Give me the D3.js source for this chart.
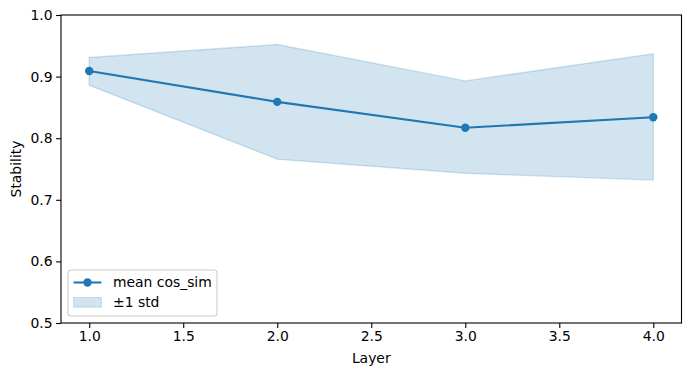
<!DOCTYPE html>
<html>
<head>
<meta charset="utf-8">
<script src="https://cdn.jsdelivr.net/npm/d3@7"></script>
<style>
  body { margin: 0; background: #fff; }
  svg { font-family: 'DejaVu Sans', sans-serif; }
</style>
</head>
<body>
<div id="chart"></div>
<script>
// data
const layers = [1, 2, 3, 4]
const meanCos = [0.909, 0.859, 0.817, 0.834]
const upperStd = [0.931, 0.952, 0.893, 0.937]
const lowerStd = [0.886, 0.766, 0.743, 0.732]
const xTicks = [1.0, 1.5, 2.0, 2.5, 3.0, 3.5, 4.0]
const yTicks = [0.5, 0.6, 0.7, 0.8, 0.9, 1.0]

const W = 691, H = 376
const m = { t: 15, r: 9.5, b: 53, l: 61 }
const blue = '#1f77b4'
const fs = 13.9

const svg = d3.select('#chart').append('svg')
  .attr('width', W).attr('height', H)

const x = d3.scaleLinear().domain([0.85, 4.15]).range([m.l, W - m.r])
const y = d3.scaleLinear().domain([0.5, 1.0]).range([H - m.b, m.t])

const pts = layers.map((l, i) => ({ x: l, mean: meanCos[i], lo: lowerStd[i], hi: upperStd[i] }))

// std band
const area = d3.area().x(d => x(d.x)).y0(d => y(d.lo)).y1(d => y(d.hi))
svg.append('path').datum(pts).attr('d', area)
  .attr('fill', blue).attr('fill-opacity', 0.2)
  .attr('stroke', blue).attr('stroke-opacity', 0.2).attr('stroke-width', 1.4)

// mean line + markers
const line = d3.line().x(d => x(d.x)).y(d => y(d.mean))
svg.append('path').datum(pts).attr('d', line)
  .attr('fill', 'none').attr('stroke', blue).attr('stroke-width', 2.08)
svg.selectAll('.dot').data(pts).enter().append('circle')
  .attr('class', 'dot')
  .attr('cx', d => x(d.x)).attr('cy', d => y(d.mean)).attr('r', 4.2)
  .attr('fill', blue)

// axes
const xAxis = svg.append('g').attr('transform', 'translate(0,' + (H - m.b) + ')')
  .call(d3.axisBottom(x).tickValues(xTicks).tickFormat(d3.format('.1f')).tickSize(4.9).tickPadding(3.5))
const yAxis = svg.append('g').attr('transform', 'translate(' + m.l + ',0)')
  .call(d3.axisLeft(y).tickValues(yTicks).tickFormat(d3.format('.1f')).tickSize(4.9).tickPadding(3.5))
for (const g of [xAxis, yAxis]) {
  g.select('.domain').remove()
  g.selectAll('.tick line').attr('stroke', '#000').attr('stroke-width', 1.1)
  g.selectAll('.tick text').attr('fill', '#000').style('font-size', fs + 'px')
    .style('font-family', 'DejaVu Sans')
}

// frame
svg.append('rect').attr('x', m.l).attr('y', m.t)
  .attr('width', W - m.r - m.l).attr('height', H - m.b - m.t)
  .attr('fill', 'none').attr('stroke', '#000').attr('stroke-width', 1.1)

// axis labels
svg.append('text').attr('x', (m.l + W - m.r) / 2).attr('y', 363)
  .attr('text-anchor', 'middle').style('font-size', fs + 'px').text('Layer')
svg.append('text').attr('transform', 'translate(21,' + ((m.t + H - m.b) / 2) + ') rotate(-90)')
  .attr('text-anchor', 'middle').style('font-size', fs + 'px').text('Stability')

// legend
const lg = svg.append('g').attr('transform', 'translate(68,270)')
lg.append('rect').attr('width', 149).attr('height', 46).attr('rx', 3)
  .attr('fill', '#fff').attr('fill-opacity', 0.8).attr('stroke', '#cccccc').attr('stroke-width', 1.1)
lg.append('line').attr('x1', 5.6).attr('x2', 33.4).attr('y1', 12.5).attr('y2', 12.5)
  .attr('stroke', blue).attr('stroke-width', 2.08)
lg.append('circle').attr('cx', 19.5).attr('cy', 12.5).attr('r', 4.2).attr('fill', blue)
lg.append('rect').attr('x', 5.6).attr('y', 27.5).attr('width', 27.8).attr('height', 9.7)
  .attr('fill', blue).attr('fill-opacity', 0.2).attr('stroke', blue).attr('stroke-opacity', 0.2)
lg.append('text').attr('x', 45).attr('y', 12.5).attr('dy', '0.35em')
  .style('font-size', fs + 'px').text('mean cos_sim')
lg.append('text').attr('x', 45).attr('y', 32.5).attr('dy', '0.35em')
  .style('font-size', fs + 'px').text('±1 std')
</script>
</body>
</html>
